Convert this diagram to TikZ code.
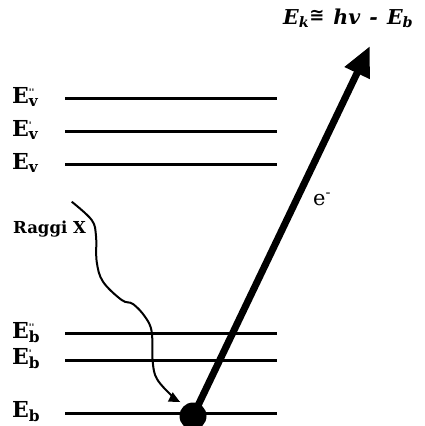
\documentclass[tikz,border=0pt]{standalone}
\usepackage{fontspec}
\usepackage{graphicx}
\setmainfont{DejaVu Serif}
\newfontfamily\symfont{DejaVu Sans}
\usetikzlibrary{arrows.meta}
\begin{document}
\begin{tikzpicture}[x=1pt,y=-1pt,
  level/.style={line width=3pt},
  lab/.style={anchor=base west, inner sep=0pt, font=\fontsize{22}{22}\selectfont\bfseries},
  xray/.style={line width=2pt, -{Triangle[length=11pt,width=10pt]}},
  ebeam/.style={line width=7pt, -{Triangle[length=30pt,width=26pt]}},
  small/.style={anchor=base west, inner sep=0pt}]
\useasboundingbox (0,0) rectangle (424,426);
\newcommand{\lvlab}[2]{E\rlap{\textsuperscript{\fontsize{9}{9}\selectfont #2}}\textsubscript{#1}}
% energy levels
\coordinate (v2l) at (65,98);  \coordinate (v2r) at (277,98);
\coordinate (v1l) at (65,131); \coordinate (v1r) at (277,131);
\coordinate (v0l) at (65,164); \coordinate (v0r) at (277,164);
\coordinate (b2l) at (65,333); \coordinate (b2r) at (277,333);
\coordinate (b1l) at (65,360); \coordinate (b1r) at (277,360);
\coordinate (b0l) at (65,413); \coordinate (b0r) at (277,413);
\foreach \a in {v2,v1,v0,b2,b1,b0} \draw[level] (\a l) -- (\a r);
% labels
\node[lab] (lv2) at (12,103) {\lvlab{v}{\textquotesingle\textquotesingle}};
\node[lab] (lv1) at (12,136) {\lvlab{v}{\textquotesingle}};
\node[lab] (lv0) at (12,169) {\lvlab{v}{}};
\node[lab] (lb2) at (12,338) {\lvlab{b}{\textquotesingle\textquotesingle}};
\node[lab] (lb1) at (12,364) {\lvlab{b}{\textquotesingle}};
\node[lab] (lb0) at (12,417) {\lvlab{b}{}};
% core electron
\node[circle, fill=black, minimum size=27pt, inner sep=0pt] (dot) at (193,416) {};
% photoelectron
\coordinate (tip) at (370,46);
\draw[ebeam] (dot.center) -- (tip);
\node[small, font=\fontsize{21}{21}\selectfont] (e) at (313,205) {e\textsuperscript{-}};
% X-ray
\coordinate (xs) at (71.7,201.7);
\draw[xray] plot[smooth, tension=0.6] coordinates {(xs) (91.7,220) (96,236) (96.7,261.7) (103,281.7) (121.7,300) (133,304) (145,316.7) (151.7,331.7) (152.7,361.7) (157,379) (172,396) (180,402)};
\node[small, font=\fontsize{16.5}{16.5}\selectfont\bfseries] (rx) at (13,233) {Raggi X};
% kinetic energy
\node[small, font=\fontsize{20.5}{20.5}\selectfont\bfseries\itshape] (ek) at (283,24) {E\textsubscript{k}\raisebox{3pt}{\symfont\bfseries\fontsize{18}{18}\selectfont ≅}\hspace{2pt} hv\hspace{2pt} -\hspace{2pt} E\textsubscript{b}};
\end{tikzpicture}
\end{document}
